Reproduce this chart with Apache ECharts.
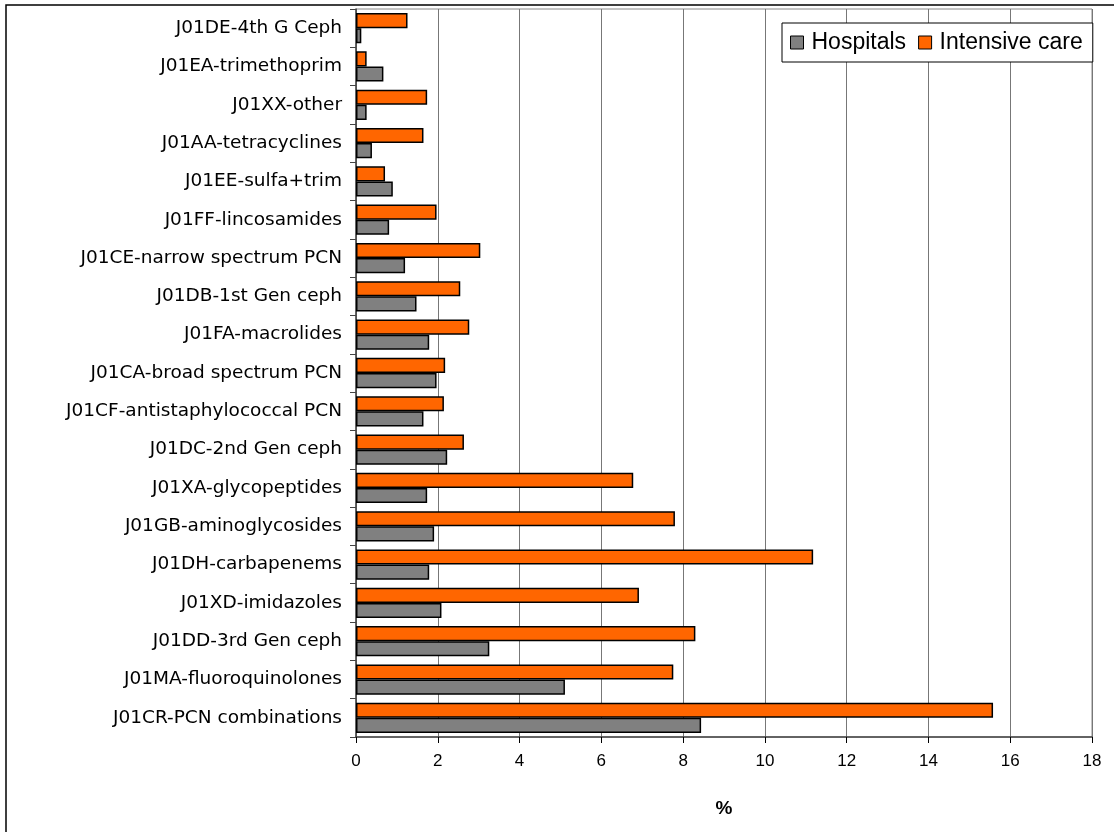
<!DOCTYPE html>
<html>
<head>
<meta charset="utf-8">
<script src="https://cdn.jsdelivr.net/npm/echarts@6/dist/echarts.min.js"></script>
<style>
html,body{margin:0;padding:0;background:#fff;}
#chart{width:1114px;height:832px;}
</style>
</head>
<body>
<div id="chart"></div>
<script>
// Categories listed bottom to top
const categories = [
  'J01CR-PCN combinations',
  'J01MA-fluoroquinolones',
  'J01DD-3rd Gen ceph',
  'J01XD-imidazoles',
  'J01DH-carbapenems',
  'J01GB-aminoglycosides',
  'J01XA-glycopeptides',
  'J01DC-2nd Gen ceph',
  'J01CF-antistaphylococcal PCN',
  'J01CA-broad spectrum PCN',
  'J01FA-macrolides',
  'J01DB-1st Gen ceph',
  'J01CE-narrow spectrum PCN',
  'J01FF-lincosamides',
  'J01EE-sulfa+trim',
  'J01AA-tetracyclines',
  'J01XX-other',
  'J01EA-trimethoprim',
  'J01DE-4th G Ceph'
];
const hospitals = [8.44, 5.11, 3.26, 2.09, 1.79, 1.91, 1.74, 2.23, 1.65, 1.97, 1.79, 1.48, 1.20, 0.81, 0.90, 0.39, 0.26, 0.67, 0.13];
const intensiveCare = [15.58, 7.76, 8.30, 6.92, 11.18, 7.80, 6.78, 2.64, 2.15, 2.18, 2.77, 2.55, 3.04, 1.97, 0.71, 1.65, 1.74, 0.26, 1.26];
const seriesNames = ['Hospitals', 'Intensive care'];
const xTicks = { min: 0, max: 18, interval: 2 };

const chart = echarts.init(document.getElementById('chart'), null, { renderer: 'canvas' });
chart.setOption({
  animation: false,
  backgroundColor: '#ffffff',
  graphic: [{
    type: 'rect',
    shape: { x: 6, y: 5, width: 1200, height: 900 },
    style: { fill: 'none', stroke: '#000', lineWidth: 1.5 },
    silent: true,
    z: -10
  }],
  legend: {
    data: seriesNames,
    left: 782,
    top: 23,
    orient: 'horizontal',
    itemWidth: 13,
    itemHeight: 13,
    itemGap: 12,
    padding: [8, 10, 8, 8],
    backgroundColor: '#ffffff',
    borderColor: '#000',
    borderWidth: 1,
    icon: 'rect',
    itemStyle: { borderColor: '#000', borderWidth: 1 },
    textStyle: { fontFamily: 'Liberation Sans', fontSize: 23, color: '#000', padding: [0, 0, 0, 3] }
  },
  grid: {
    left: 356, right: 22, top: 9, bottom: 95,
    show: true, borderColor: '#888', borderWidth: 1, backgroundColor: '#fff',
    containLabel: false
  },
  xAxis: {
    type: 'value',
    min: xTicks.min, max: xTicks.max, interval: xTicks.interval,
    name: '%',
    nameLocation: 'middle',
    nameGap: 62,
    nameTextStyle: { fontFamily: 'Liberation Sans', fontSize: 19, fontWeight: 'bold', color: '#000' },
    axisLine: { show: true, lineStyle: { color: '#444', width: 1.5 } },
    axisTick: { show: true, length: 6, lineStyle: { color: '#000' } },
    axisLabel: { fontFamily: 'Liberation Sans', fontSize: 17, color: '#000', margin: 16 },
    splitLine: { show: true, lineStyle: { color: '#777', width: 1 } }
  },
  yAxis: {
    type: 'category',
    data: categories,
    axisLine: { show: true, lineStyle: { color: '#444', width: 1.5 } },
    axisTick: { show: true, length: 6, lineStyle: { color: '#444' } },
    axisLabel: { fontFamily: 'DejaVu Sans', fontSize: 18.5, color: '#000', margin: 14 },
    splitLine: { show: false }
  },
  series: [
    {
      name: seriesNames[1],
      type: 'bar',
      data: intensiveCare,
      barGap: '0%',
      barCategoryGap: '21%',
      itemStyle: { color: '#ff6600', borderColor: '#000', borderWidth: 1.5 }
    },
    {
      name: seriesNames[0],
      type: 'bar',
      data: hospitals,
      barGap: '0%',
      barCategoryGap: '21%',
      itemStyle: { color: '#808080', borderColor: '#000', borderWidth: 1.5 }
    }
  ]
});
</script>
</body>
</html>
